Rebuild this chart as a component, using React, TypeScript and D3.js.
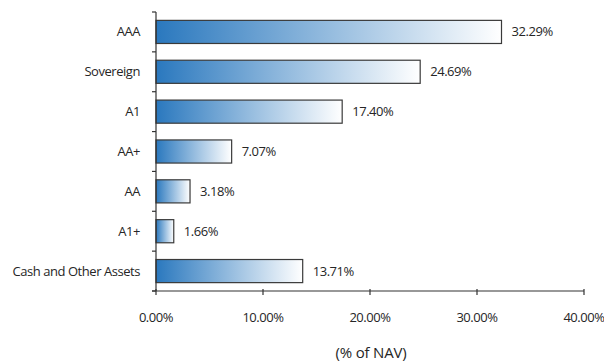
import React from "react";
import * as d3 from "d3";

const categories = ["AAA", "Sovereign", "A1", "AA+", "AA", "A1+", "Cash and Other Assets"];
const values = [32.29, 24.69, 17.4, 7.07, 3.18, 1.66, 13.71];
const xTicks = [0, 10, 20, 30, 40];

const W = 604;
const H = 363;
const margin = { top: 12, right: 20, bottom: 72, left: 156 };
const FONT = "'Open Sans', sans-serif";
const INK = "#262626";

export default function App() {
    const x = d3.scaleLinear().domain([0, 40]).range([margin.left, 584]);
    const y = d3
        .scaleBand<string>()
        .domain(categories)
        .range([margin.top, 291])
        .paddingInner(0.42)
        .paddingOuter(0.21);

    const axisY = 291;
    const step = y.step();

    return (
        <svg width={W} height={H} style={{ position: "absolute", left: 0, top: 0 }}>
            <defs>
                <linearGradient id="barGrad" x1="0" y1="0" x2="1" y2="0">
                    <stop offset="0%" stopColor="#2a78be" />
                    <stop offset="100%" stopColor="#ffffff" />
                </linearGradient>
            </defs>
            <rect width={W} height={H} fill="#fff" />

            {categories.map((c, i) => {
                const v = values[i];
                const y0 = y(c)!;
                return (
                    <g key={c}>
                        <rect
                            x={x(0)}
                            y={y0}
                            width={x(v) - x(0)}
                            height={y.bandwidth()}
                            fill="url(#barGrad)"
                            stroke="#3a3a3a"
                            strokeWidth={1.2}
                        />
                        <text
                            x={140}
                            y={y0 + y.bandwidth() / 2}
                            dy="0.35em"
                            textAnchor="end"
                            fontFamily={FONT}
                            fontSize={13}
                            letterSpacing={-0.45}
                            fill={INK}
                        >
                            {c}
                        </text>
                        <text
                            x={x(v) + 10}
                            y={y0 + y.bandwidth() / 2}
                            dy="0.35em"
                            fontFamily={FONT}
                            fontSize={13}
                            letterSpacing={-0.45}
                            fill={INK}
                        >
                            {d3.format(".2f")(v)}%
                        </text>
                    </g>
                );
            })}

            {/* y axis */}
            <line x1={x(0)} x2={x(0)} y1={margin.top} y2={axisY} stroke="#333" strokeWidth={1.2} />
            {d3.range(categories.length + 1).map((i) => (
                <line
                    key={i}
                    x1={x(0) - 4}
                    x2={x(0)}
                    y1={margin.top + i * step}
                    y2={margin.top + i * step}
                    stroke="#333"
                    strokeWidth={1.2}
                />
            ))}

            {/* x axis */}
            <line x1={x(0) - 4} x2={x(40)} y1={axisY} y2={axisY} stroke="#333" strokeWidth={1.2} />
            {xTicks.map((t) => (
                <g key={t}>
                    <line x1={x(t)} x2={x(t)} y1={axisY - 2} y2={axisY + 4} stroke="#333" strokeWidth={1.2} />
                    <text
                        x={x(t)}
                        y={317}
                        dy="0.35em"
                        textAnchor="middle"
                        fontFamily={FONT}
                        fontSize={13}
                        letterSpacing={-0.45}
                        fill={INK}
                    >
                        {d3.format(".2f")(t)}%
                    </text>
                </g>
            ))}
            <text
                x={371}
                y={353}
                dy="0.35em"
                textAnchor="middle"
                fontFamily={FONT}
                fontSize={15}
                letterSpacing={-0.2}
                fill={INK}
            >
                (% of NAV)
            </text>
        </svg>
    );
}
